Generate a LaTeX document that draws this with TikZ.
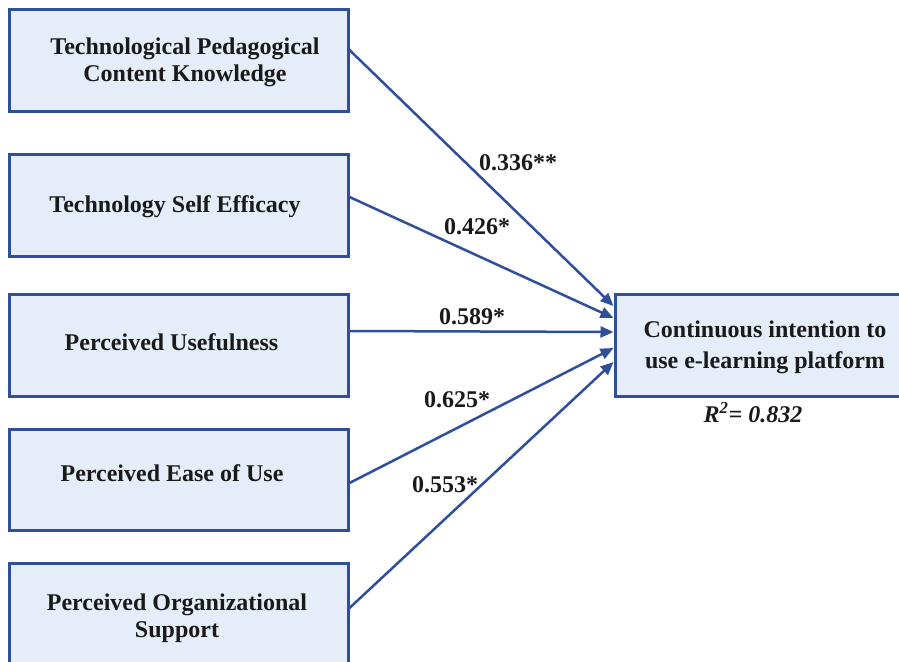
\documentclass[tikz,border=0pt]{standalone}
\usepackage{fontspec}
\setmainfont{Liberation Serif}
\usetikzlibrary{arrows.meta}
\definecolor{bblue}{HTML}{2F4F9A}
\definecolor{bfill}{HTML}{E5EDF8}
\definecolor{ink}{HTML}{1A1A1A}
\begin{document}
\begin{tikzpicture}[x=1pt,y=-1pt,
  box/.style={draw=bblue, fill=bfill, line width=3pt, minimum width=339pt, minimum height=102pt, inner sep=0pt},
  txt/.style={text=ink, align=center, inner sep=0pt, font=\fontsize{24}{27}\selectfont\bfseries},
  lbl/.style={text=ink, inner sep=0pt, font=\fontsize{24}{27}\selectfont\bfseries},
  path/.style={draw=bblue, line width=2.5pt, -{Triangle[length=13pt,width=11pt]}}]
\clip (0,0) rectangle (899,661);
\fill[white] (0,0) rectangle (899,661);
% boxes
\node[box, minimum height=101pt] (b1) at (178.5,60.5) {};
\node[box] (b2) at (178.5,205) {};
\node[box] (b3) at (178.5,345) {};
\node[box, minimum height=101pt] (b4) at (178.5,480) {};
\node[box] (b5) at (178.5,614) {};
\node[box, minimum width=301pt] (out) at (765.5,345) {};
% texts
\node[txt] (t1) at (185,62) {Technological Pedagogical\\Content Knowledge};
\node[txt] (t2) at (175,207) {Technology Self Efficacy};
\node[txt] (t3) at (171.5,342) {Perceived Usefulness};
\node[txt] (t4) at (172,473) {Perceived Ease of Use};
\node[txt] (t5) at (177,618) {Perceived Organizational\\Support};
\node[txt, font=\fontsize{24}{31}\selectfont\bfseries] (t6) at (765,347) {Continuous intention to\\use e-learning platform};
\node[lbl] (r2) at (753,413) {\textit{R\textsuperscript{2}= 0.832}};
% arrows
\draw[path] ([yshift=10.5pt]b1.east) -- ([yshift=39pt]out.west);
\draw[path] ([yshift=8pt]b2.east) -- ([yshift=27pt]out.west);
\draw[path] ([yshift=14pt]b3.east) -- ([yshift=13pt]out.west);
\draw[path] ([yshift=-3pt]b4.east) -- ([yshift=-3pt]out.west);
\draw[path] ([yshift=6pt]b5.east) -- ([yshift=-17pt]out.west);
% labels
\node[lbl] (l1) at (518,163) {0.336**};
\node[lbl] (l2) at (477,227) {0.426*};
\node[lbl] (l3) at (472,317) {0.589*};
\node[lbl] (l4) at (457,400) {0.625*};
\node[lbl] (l5) at (445,485) {0.553*};
\end{tikzpicture}
\end{document}
